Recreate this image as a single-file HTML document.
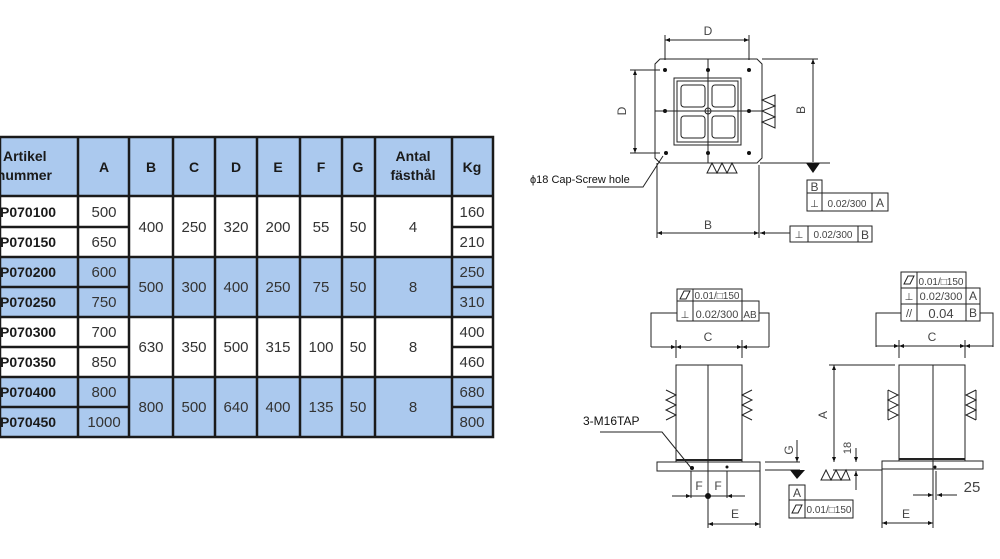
<!DOCTYPE html>
<html><head><meta charset="utf-8"><style>
html,body{margin:0;padding:0;background:#fff;}
svg{display:block;}
</style></head><body>
<svg width="1000" height="559" viewBox="0 0 1000 559" xmlns="http://www.w3.org/2000/svg">
<defs>
<marker id="ar" viewBox="0 0 10 10" refX="10" refY="5" markerWidth="7" markerHeight="5" orient="auto-start-reverse"><path d="M0,1 L10,5 L0,9 z" fill="#111"/></marker>
</defs>
<!-- TABLE -->
<g>
<rect x="0" y="137" width="493" height="59" fill="#abc9ee"/>
<rect x="0" y="257" width="493" height="60" fill="#abc9ee"/>
<rect x="0" y="377" width="493" height="60" fill="#abc9ee"/>
<g stroke="#1a1a1a" stroke-width="2.5" fill="none">
<rect x="0" y="137" width="493" height="300"/>
<line x1="0" y1="196" x2="493" y2="196"/>
<line x1="0" y1="257" x2="493" y2="257"/>
<line x1="0" y1="317" x2="493" y2="317"/>
<line x1="0" y1="377" x2="493" y2="377"/>
<line x1="0" y1="227" x2="129" y2="227"/><line x1="452" y1="227" x2="493" y2="227"/>
<line x1="0" y1="287" x2="129" y2="287"/><line x1="452" y1="287" x2="493" y2="287"/>
<line x1="0" y1="347" x2="129" y2="347"/><line x1="452" y1="347" x2="493" y2="347"/>
<line x1="0" y1="407" x2="129" y2="407"/><line x1="452" y1="407" x2="493" y2="407"/>
<line x1="78" y1="137" x2="78" y2="437"/><line x1="129" y1="137" x2="129" y2="437"/>
<line x1="173" y1="137" x2="173" y2="437"/><line x1="215" y1="137" x2="215" y2="437"/>
<line x1="257" y1="137" x2="257" y2="437"/><line x1="300" y1="137" x2="300" y2="437"/>
<line x1="342" y1="137" x2="342" y2="437"/><line x1="375" y1="137" x2="375" y2="437"/>
<line x1="452" y1="137" x2="452" y2="437"/>
</g>
<g font-family="Liberation Sans, sans-serif" font-size="14" fill="#1a1a1a" font-weight="bold">
<text x="3" y="161">Artikel</text><text x="52" y="180" text-anchor="end">nummer</text>
<g text-anchor="middle"><text x="104" y="172">A</text><text x="151" y="172">B</text><text x="194" y="172">C</text><text x="236" y="172">D</text><text x="278" y="172">E</text><text x="321" y="172">F</text><text x="358" y="172">G</text><text x="413" y="161">Antal</text><text x="413" y="180">fästhål</text><text x="472" y="172">Kg</text></g>
<text x="0" y="217">P070100</text><text x="0" y="247">P070150</text>
<text x="0" y="277">P070200</text><text x="0" y="307">P070250</text>
<text x="0" y="337">P070300</text><text x="0" y="367">P070350</text>
<text x="0" y="397">P070400</text><text x="0" y="427">P070450</text>
</g>
<g font-family="Liberation Sans, sans-serif" font-size="15" fill="#333" text-anchor="middle">
<text x="104" y="217">500</text><text x="104" y="247">650</text><text x="104" y="277">600</text><text x="104" y="307">750</text>
<text x="104" y="337">700</text><text x="104" y="367">850</text><text x="104" y="397">800</text><text x="104" y="427">1000</text>
<text x="472" y="217">160</text><text x="472" y="247">210</text><text x="472" y="277">250</text><text x="472" y="307">310</text>
<text x="472" y="337">400</text><text x="472" y="367">460</text><text x="472" y="397">680</text><text x="472" y="427">800</text>
<text x="151" y="232">400</text><text x="194" y="232">250</text><text x="236" y="232">320</text><text x="278" y="232">200</text><text x="321" y="232">55</text><text x="358" y="232">50</text><text x="413" y="232">4</text>
<text x="151" y="292">500</text><text x="194" y="292">300</text><text x="236" y="292">400</text><text x="278" y="292">250</text><text x="321" y="292">75</text><text x="358" y="292">50</text><text x="413" y="292">8</text>
<text x="151" y="352">630</text><text x="194" y="352">350</text><text x="236" y="352">500</text><text x="278" y="352">315</text><text x="321" y="352">100</text><text x="358" y="352">50</text><text x="413" y="352">8</text>
<text x="151" y="412">800</text><text x="194" y="412">500</text><text x="236" y="412">640</text><text x="278" y="412">400</text><text x="321" y="412">135</text><text x="358" y="412">50</text><text x="413" y="412">8</text>
</g>
</g>

<!-- TOP VIEW -->
<g stroke="#222" stroke-width="1" fill="none">
<path d="M660,59 L757,59 L762,64 L762,158 L757,163 L660,163 L655,158 L655,64 Z"/>
<rect x="674" y="78" width="67" height="67"/>
<rect x="677" y="81" width="61" height="61"/>
<rect x="681" y="85" width="24" height="22" rx="3"/><rect x="712" y="85" width="23" height="22" rx="3"/>
<rect x="681" y="116" width="24" height="22" rx="3"/><rect x="712" y="116" width="23" height="22" rx="3"/>
<line x1="708" y1="59" x2="708" y2="163"/><line x1="655" y1="111" x2="762" y2="111"/>
<circle cx="708" cy="111" r="3"/>
<line x1="665" y1="35" x2="665" y2="60"/><line x1="749" y1="35" x2="749" y2="60"/>
<line x1="665" y1="40" x2="749" y2="40" marker-start="url(#ar)" marker-end="url(#ar)"/>
<line x1="630" y1="70" x2="660" y2="70"/><line x1="630" y1="153" x2="660" y2="153"/>
<line x1="635" y1="70" x2="635" y2="153" marker-start="url(#ar)" marker-end="url(#ar)"/>
<line x1="762" y1="59" x2="818" y2="59"/>
<line x1="813" y1="59" x2="813" y2="162" marker-start="url(#ar)"/>
<line x1="760" y1="163" x2="830" y2="163"/>
<line x1="657" y1="163" x2="657" y2="238"/><line x1="759" y1="165" x2="759" y2="238"/>
<line x1="657" y1="233" x2="759" y2="233" marker-start="url(#ar)" marker-end="url(#ar)"/>
<line x1="790" y1="233" x2="760" y2="233" marker-end="url(#ar)"/>
<path d="M775,95 L762,100 L775,106 L762,111 L775,117 L762,122 L775,128 Z M775,95 L775,128"/>
<path d="M707,173 L712,163 L717,173 L722,163 L727,173 L732,163 L737,173 Z"/>
<polyline points="587,187 643,187 663,156"/>
<rect x="807" y="180" width="15" height="13"/>
<rect x="807" y="193" width="81" height="18"/><line x1="822" y1="193" x2="822" y2="211"/><line x1="872" y1="193" x2="872" y2="211"/>
<rect x="790" y="226" width="82" height="16"/><line x1="808" y1="226" x2="808" y2="242"/><line x1="858" y1="226" x2="858" y2="242"/>
</g>
<g fill="#111">
<circle cx="665" cy="70" r="2"/><circle cx="708" cy="70" r="2"/><circle cx="749" cy="70" r="2"/>
<circle cx="665" cy="111" r="2"/><circle cx="749" cy="111" r="2"/>
<circle cx="666" cy="153" r="2"/><circle cx="708" cy="153" r="2"/><circle cx="749" cy="153" r="2"/>
<path d="M806,163 L820,163 L813,173 Z"/>
</g>
<g font-family="Liberation Sans, sans-serif" fill="#444" font-size="12">
<text x="708" y="35" text-anchor="middle">D</text>
<text transform="translate(626,111) rotate(-90)" text-anchor="middle">D</text>
<text transform="translate(805,110) rotate(-90)" text-anchor="middle">B</text>
<text x="708" y="229" text-anchor="middle">B</text>
<text x="814.5" y="191" text-anchor="middle">B</text>
<text x="814.5" y="207" text-anchor="middle" font-size="10">⊥</text>
<text x="847" y="207" text-anchor="middle" font-size="10">0.02/300</text>
<text x="880" y="207" text-anchor="middle">A</text>
<text x="799" y="238" text-anchor="middle" font-size="10">⊥</text>
<text x="833" y="238" text-anchor="middle" font-size="10">0.02/300</text>
<text x="865" y="239" text-anchor="middle">B</text>
<text x="530" y="183" font-size="11" fill="#111">ϕ18 Cap-Screw hole</text>
</g>

<!-- BOTTOM LEFT -->
<g stroke="#222" stroke-width="1" fill="none">
<rect x="676" y="365" width="66" height="97"/><line x1="708" y1="365" x2="708" y2="500"/>
<rect x="657" y="462" width="103" height="9"/>
<line x1="676" y1="460" x2="742" y2="460" stroke-width="2"/>
<rect x="677" y="289" width="65" height="12"/><line x1="693" y1="289" x2="693" y2="301"/>
<path d="M680,299 L684,291 L690,291 L686,299 Z"/>
<rect x="677" y="301" width="82" height="20"/><line x1="693" y1="301" x2="693" y2="321"/><line x1="742" y1="301" x2="742" y2="321"/>
<polyline points="677,313 651,313 651,347"/><polyline points="759,313 769,313 769,347"/>
<line x1="651" y1="347" x2="769" y2="347"/>
<line x1="662" y1="347" x2="676" y2="347" marker-end="url(#ar)"/><line x1="690" y1="347" x2="676" y2="347" marker-end="url(#ar)"/>
<line x1="728" y1="347" x2="742" y2="347" marker-end="url(#ar)"/><line x1="756" y1="347" x2="742" y2="347" marker-end="url(#ar)"/>
<line x1="676" y1="340" x2="676" y2="358"/><line x1="742" y1="340" x2="742" y2="358"/>
<path d="M666,390 L676,395 L666,400 L676,405 L666,410 L676,415 L666,420 M676,390 L676,420"/>
<path d="M752,390 L742,395 L752,400 L742,405 L752,410 L742,415 L752,420 M742,390 L742,420"/>
<polyline points="600,432 662,432 692,469"/>
<line x1="691" y1="471" x2="691" y2="498"/><line x1="727" y1="471" x2="727" y2="498"/>
<line x1="672" y1="496" x2="691" y2="496" marker-end="url(#ar)"/><line x1="745" y1="496" x2="727" y2="496" marker-end="url(#ar)"/>
<line x1="691" y1="496" x2="727" y2="496"/>
<line x1="760" y1="471" x2="760" y2="528"/><line x1="708" y1="500" x2="708" y2="528"/>
<line x1="708" y1="524" x2="760" y2="524" marker-start="url(#ar)" marker-end="url(#ar)"/>
<!-- G datum -->
<line x1="765" y1="462" x2="800" y2="462"/><line x1="765" y1="470" x2="800" y2="470"/>
<line x1="797" y1="440" x2="797" y2="462" marker-end="url(#ar)"/>
<rect x="789" y="485" width="16" height="15"/>
<rect x="789" y="500" width="64" height="18"/><line x1="805" y1="500" x2="805" y2="518"/>
<path d="M792,513 L796,505 L802,505 L798,513 Z"/>
</g>
<g fill="#111"><circle cx="692" cy="468" r="2"/><circle cx="727" cy="467" r="1.5"/><circle cx="708" cy="496" r="3"/>
<path d="M790,470 L805,470 L797,479 Z"/></g>

<!-- BOTTOM RIGHT -->
<g stroke="#222" stroke-width="1" fill="none">
<rect x="899" y="365" width="66" height="96"/><line x1="933" y1="365" x2="933" y2="471"/>
<rect x="882" y="461" width="101" height="8"/>
<line x1="899" y1="459" x2="965" y2="459" stroke-width="2"/>
<rect x="901" y="272" width="65" height="16"/><line x1="917" y1="272" x2="917" y2="288"/>
<rect x="901" y="288" width="79" height="33"/><line x1="901" y1="304" x2="980" y2="304"/>
<line x1="917" y1="288" x2="917" y2="321"/><line x1="966" y1="288" x2="966" y2="321"/>
<polyline points="901,313 876,313 876,347"/><polyline points="980,313 993,313 993,347"/>
<line x1="876" y1="346" x2="993" y2="346"/>
<line x1="886" y1="346" x2="899" y2="346" marker-end="url(#ar)"/><line x1="912" y1="346" x2="899" y2="346" marker-end="url(#ar)"/>
<line x1="952" y1="346" x2="965" y2="346" marker-end="url(#ar)"/><line x1="978" y1="346" x2="965" y2="346" marker-end="url(#ar)"/>
<line x1="899" y1="340" x2="899" y2="358"/><line x1="965" y1="340" x2="965" y2="358"/>
<path d="M888,390 L898,395 L888,400 L898,405 L888,410 L898,415 L888,420 M888,390 L888,420"/>
<path d="M976,390 L966,395 L976,400 L966,405 L976,410 L966,415 L976,420 M976,390 L976,420"/>
<line x1="829" y1="365" x2="895" y2="365"/>
<line x1="834" y1="365" x2="834" y2="462" marker-start="url(#ar)" marker-end="url(#ar)"/>
<line x1="833" y1="470" x2="882" y2="470"/>
<line x1="856" y1="448" x2="856" y2="462" marker-end="url(#ar)"/><line x1="856" y1="490" x2="856" y2="471" marker-end="url(#ar)"/>
<path d="M821,480 L826,470 L831,480 L836,470 L841,480 L846,470 L850,480 Z"/>
<line x1="936" y1="471" x2="936" y2="500"/><line x1="933" y1="471" x2="933" y2="528"/>
<line x1="913" y1="495" x2="933" y2="495" marker-end="url(#ar)"/><line x1="957" y1="495" x2="937" y2="495" marker-end="url(#ar)"/>
<line x1="882" y1="469" x2="882" y2="528"/>
<line x1="882" y1="523" x2="933" y2="523" marker-start="url(#ar)" marker-end="url(#ar)"/>
<path d="M904,284 L908,276 L914,276 L910,284 Z"/>
</g>
<g fill="#111"><circle cx="935" cy="467" r="1.5"/></g>

<g font-family="Liberation Sans, sans-serif" fill="#444" font-size="12">
<text x="708" y="341" text-anchor="middle">C</text>
<text x="932" y="341" text-anchor="middle">C</text>
<text x="717" y="299" text-anchor="middle" font-size="10">0.01/□150</text>
<text x="685" y="318" text-anchor="middle" font-size="10">⊥</text>
<text x="717" y="318" text-anchor="middle" font-size="11">0.02/300</text>
<text x="750" y="318" text-anchor="middle" font-size="10">AB</text>
<text x="941" y="285" text-anchor="middle" font-size="10">0.01/□150</text>
<text x="909" y="300" text-anchor="middle" font-size="10">⊥</text>
<text x="941" y="300" text-anchor="middle" font-size="11">0.02/300</text>
<text x="973" y="300" text-anchor="middle">A</text>
<text x="909" y="317" text-anchor="middle" font-size="11">//</text>
<text x="941" y="318" text-anchor="middle" font-size="13">0.04</text>
<text x="973" y="317" text-anchor="middle">B</text>
<text x="583" y="425" font-size="12" fill="#111">3-M16TAP</text>
<text x="699" y="490" text-anchor="middle">F</text><text x="718" y="490" text-anchor="middle">F</text>
<text x="735" y="518" text-anchor="middle">E</text>
<text x="906" y="518" text-anchor="middle">E</text>
<text transform="translate(793,450) rotate(-90)" text-anchor="middle">G</text>
<text transform="translate(827,415) rotate(-90)" text-anchor="middle">A</text>
<text transform="translate(851,448) rotate(-90)" text-anchor="middle" font-size="11">18</text>
<text x="972" y="492" text-anchor="middle" font-size="15">25</text>
<text x="797" y="497" text-anchor="middle">A</text>
<text x="829" y="513" text-anchor="middle" font-size="10">0.01/□150</text>
</g>
</svg>
</body></html>
